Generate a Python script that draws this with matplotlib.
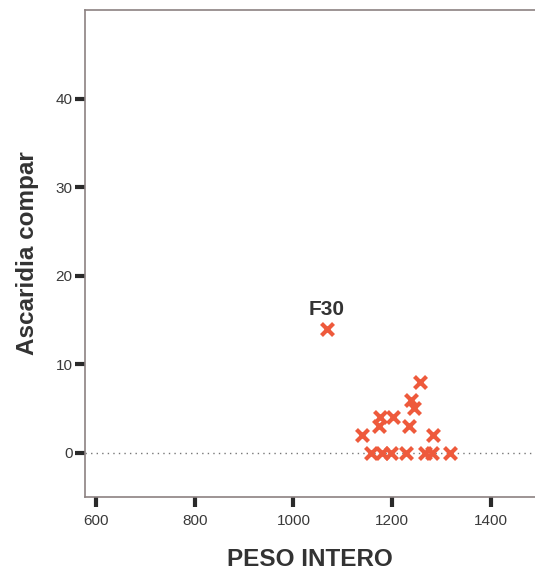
import matplotlib
matplotlib.use("Agg")
import matplotlib.pyplot as plt

peso = [1067, 1138, 1157, 1180, 1198, 1227, 1266, 1280, 1317,
        1173, 1176, 1201, 1234, 1238, 1244, 1256, 1282]
ascaridia = [14, 2, 0, 0, 0, 0, 0, 0, 0,
             3, 4, 4, 3, 6, 5, 8, 2]
label_text = "F30"
label_index = 0
xticks = [600, 800, 1000, 1200, 1400]
yticks = [0, 10, 20, 30, 40]

plt.rcParams['font.family'] = ['Liberation Sans', 'DejaVu Sans']
fig = plt.figure(figsize=(5.35, 5.74), dpi=100)
ax = fig.add_axes([85/535, 1-497/574, 1-85/535, 487/574])
ax.set_xlim(578, 1489)
ax.set_ylim(-5, 50)

ax.axhline(0, color='#777777', linestyle=(0, (1, 3)), linewidth=1, zorder=1)
ax.scatter(peso, ascaridia, marker='x', s=75, linewidths=3, color='#EE5A3C', zorder=3)
ax.annotate(label_text, (peso[label_index], ascaridia[label_index]),
            xytext=(0, 7), textcoords='offset points', ha='center', va='bottom',
            fontsize=15, fontweight='bold', color='#333333')

ax.set_xticks(xticks)
ax.set_yticks(yticks)
ax.tick_params(axis='both', length=7, width=3, color='#2a2a2a', labelsize=11,
               labelcolor='#3a3a3a', direction='out')
ax.tick_params(axis='y', pad=2)
ax.tick_params(axis='x', pad=5)
for s in ['left', 'top', 'bottom']:
    ax.spines[s].set_color('#8c8282')
    ax.spines[s].set_linewidth(1.2)
ax.spines['right'].set_visible(False)

ax.set_xlabel('PESO INTERO', fontsize=17.5, fontweight='bold', color='#333333', labelpad=15)
ax.set_ylabel('Ascaridia compar', fontsize=17.5, fontweight='bold', color='#333333', labelpad=12)

fig.savefig('out.png', dpi=100)
